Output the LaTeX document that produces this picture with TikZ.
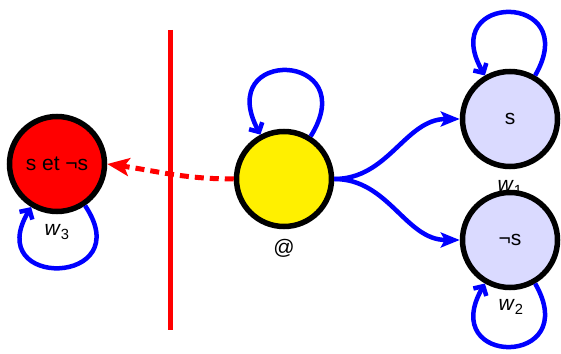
\documentclass[tikz,border=0pt]{standalone}
\usepackage{fontspec}
\setmainfont{Liberation Sans}
\usetikzlibrary{arrows.meta}
\definecolor{lav}{RGB}{218,218,255}
\definecolor{yel}{RGB}{255,240,0}
\begin{document}
\begin{tikzpicture}[x=1pt,y=1pt,
  world/.style={circle,draw=black,line width=5.5pt,minimum size=95pt,inner sep=0pt,font=\fontsize{21}{25}\selectfont},
  lab/.style={font=\fontsize{21}{25}\selectfont,inner sep=0pt},
  rel/.style={draw=blue,line width=4.5pt,-{Stealth[length=19pt,width=15pt,inset=4pt]}},
  loopst/.style={draw=blue,line width=4.5pt,-{Straight Barb[length=7pt,width=15pt]}},
  redarr/.style={draw=red,line width=5pt,dash pattern=on 9pt off 6pt,-{Stealth[length=22pt,width=18pt,inset=5pt]}}]
\useasboundingbox (0,0) rectangle (561,353);
\node[world,fill=red] (r) at (57,189) {s et ¬s};
\node[world,fill=yel] (y) at (284,174) {};
\node[world,fill=lav] (s1) at (510,234) {s};
\node[lab] (w1) at (510,165) {\textit{w}\textsubscript{1}};
\node[world,fill=lav] (s2) at (510,113) {¬s};
\node[lab] (w2) at (511,46) {\textit{w}\textsubscript{2}};
\node[lab] (w3) at (57,121) {\textit{w}\textsubscript{3}};
\node[lab] (at) at (284,105) {@};
\coordinate (ltop) at (170,323);
\coordinate (lbot) at (170,23);
\draw[red,line width=5pt] (ltop) -- (lbot);
\draw[loopst] (s1.60) .. controls +(60:97) and +(120:97) .. (s1.120);
\draw[loopst] (s2.-60) .. controls +(-60:97) and +(-120:97) .. (s2.-120);
\draw[loopst] (y.58) .. controls +(58:100) and +(118:100) .. (y.118);
\draw[loopst] (r.-56) .. controls +(-56:97) and +(-121:97) .. (r.-121);
\draw[rel] (y.east) to[out=0,in=180] (s1.west);
\draw[rel] (y.east) to[out=0,in=180] (s2.west);
\draw[redarr] (y.west) to[out=180,in=-8] (r.east);
\end{tikzpicture}
\end{document}
